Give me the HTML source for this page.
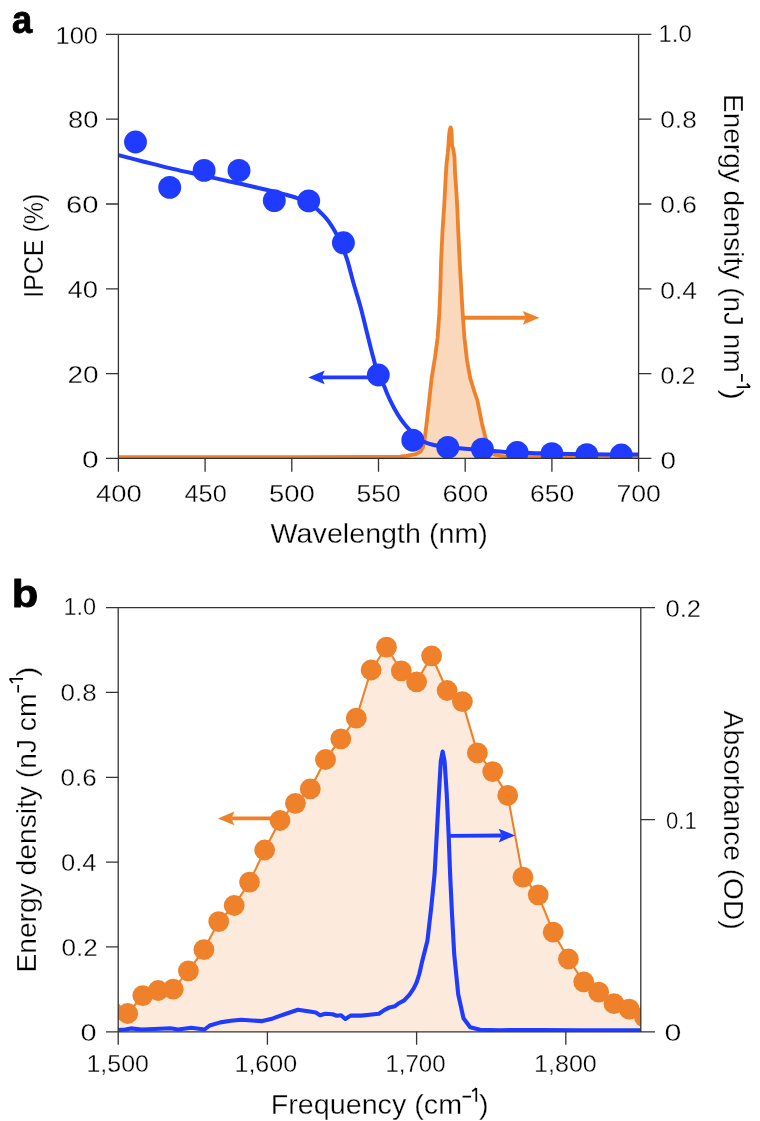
<!DOCTYPE html>
<html><head><meta charset="utf-8"><title>Figure</title><style>
html,body{margin:0;padding:0;background:#fff;width:760px;height:1121px;overflow:hidden}
svg{display:block;will-change:transform}
text{font-family:"Liberation Sans",sans-serif}
</style></head><body>
<svg width="760" height="1121" viewBox="0 0 760 1121">
<rect width="760" height="1121" fill="#fff"/>
<clipPath id="ca"><rect x="118.4" y="34.4" width="520.2" height="424"/></clipPath>
<g clip-path="url(#ca)">
<polygon points="116.4,457.2 300,457.2 370,457 400,456.6 406.3,455.8 415.8,454.2 420.5,451.5 423,447 424.5,440 425.8,430 427,420 429.2,400.5 431.6,378.4 435.2,356.3 437.6,337.4 439.3,313.7 440.3,290 441,263.5 442.5,230.5 444.2,205.8 445.3,185 445.9,173.8 446.5,164 447.8,153 448.6,143 449.2,134 449.8,129.5 450.6,127.4 451.3,129.5 451.7,134 452,145.5 453.2,148.8 454.5,157.2 455.1,173.8 456,186 457.2,205.8 458.2,230.5 459.8,263.5 461.3,290 462.7,313.7 464.4,337.4 467.1,361 470.3,378.4 474.5,392 477.4,400.5 482.1,424.2 486.1,440 489.5,450.5 494,454.5 501,455.8 510.5,456.8 540,457 640.6,457 640.6,458.4 116.4,458.4" fill="#FAD8BB"/>
<polyline points="116.4,457.2 300,457.2 370,457 400,456.6 406.3,455.8 415.8,454.2 420.5,451.5 423,447 424.5,440 425.8,430 427,420 429.2,400.5 431.6,378.4 435.2,356.3 437.6,337.4 439.3,313.7 440.3,290 441,263.5 442.5,230.5 444.2,205.8 445.3,185 445.9,173.8 446.5,164 447.8,153 448.6,143 449.2,134 449.8,129.5 450.6,127.4 451.3,129.5 451.7,134 452,145.5 453.2,148.8 454.5,157.2 455.1,173.8 456,186 457.2,205.8 458.2,230.5 459.8,263.5 461.3,290 462.7,313.7 464.4,337.4 467.1,361 470.3,378.4 474.5,392 477.4,400.5 482.1,424.2 486.1,440 489.5,450.5 494,454.5 501,455.8 510.5,456.8 540,457 640.6,457" fill="none" stroke="#EE8129" stroke-width="3.8" stroke-linejoin="round"/>
<path d="M117.4,154.9 C121.82,156.03 134.65,159.37 143.9,161.7 C153.15,164.03 163.25,166.63 172.9,168.9 C182.55,171.17 192.15,173.17 201.8,175.3 C211.45,177.43 221.15,179.55 230.8,181.7 C240.45,183.85 250.67,186.08 259.7,188.2 C268.73,190.32 278.85,192.78 285,194.4 C291.15,196.02 293,196.47 296.6,197.9 C300.2,199.33 303.27,201.17 306.6,203 C309.93,204.83 314.07,207.12 316.6,208.9 C319.13,210.68 320.05,211.93 321.8,213.7 C323.55,215.47 325.52,217.57 327.1,219.5 C328.68,221.43 329.98,223.28 331.3,225.3 C332.62,227.32 333.55,229.07 335,231.6 C336.45,234.13 338.33,236.82 340,240.5 C341.67,244.18 343.63,249.93 345,253.7 C346.37,257.47 346.8,258.25 348.2,263.1 C349.6,267.95 351.38,275.65 353.4,282.8 C355.42,289.95 358.18,298.27 360.3,306 C362.42,313.73 364.17,321.47 366.1,329.2 C368.03,336.93 369.88,344.78 371.9,352.4 C373.92,360.02 376.2,369.35 378.2,374.9 C380.2,380.45 382.42,382.6 383.9,385.7 C385.38,388.8 385.97,390.88 387.1,393.5 C388.23,396.12 389.5,398.9 390.7,401.4 C391.9,403.9 393,406.13 394.3,408.5 C395.6,410.87 396.97,413.22 398.5,415.6 C400.03,417.98 401.95,420.77 403.5,422.8 C405.05,424.83 406.22,426.02 407.8,427.8 C409.38,429.58 411.3,431.8 413,433.5 C414.7,435.2 416.17,436.62 418,438 C419.83,439.38 421.7,440.72 424,441.8 C426.3,442.88 427.82,443.62 431.8,444.5 C435.78,445.38 442.42,446.4 447.9,447.1 C453.38,447.8 458.95,448.25 464.7,448.7 C470.45,449.15 476.52,449.33 482.4,449.8 C488.28,450.27 494.23,451.03 500,451.5 C505.77,451.97 511.17,452.32 517,452.6 C522.83,452.88 529.17,453.02 535,453.2 C540.83,453.38 542.83,453.53 552,453.7 C561.17,453.87 575.4,454.05 590,454.2 C604.6,454.35 631.33,454.53 639.6,454.6" fill="none" stroke="#1F3BFF" stroke-width="4.0" stroke-linejoin="round"/>
<circle cx="135.5" cy="142" r="11.45" fill="#1F3BFF"/>
<circle cx="169.7" cy="187.4" r="11.45" fill="#1F3BFF"/>
<circle cx="204.1" cy="170.4" r="11.45" fill="#1F3BFF"/>
<circle cx="239" cy="170.4" r="11.45" fill="#1F3BFF"/>
<circle cx="274.3" cy="200.6" r="11.45" fill="#1F3BFF"/>
<circle cx="308.7" cy="200.9" r="11.45" fill="#1F3BFF"/>
<circle cx="343.4" cy="242.8" r="11.45" fill="#1F3BFF"/>
<circle cx="378.3" cy="375" r="11.45" fill="#1F3BFF"/>
<circle cx="412.8" cy="440.2" r="11.45" fill="#1F3BFF"/>
<circle cx="447.8" cy="447.4" r="11.45" fill="#1F3BFF"/>
<circle cx="482.4" cy="449.1" r="11.45" fill="#1F3BFF"/>
<circle cx="517.2" cy="452.5" r="11.45" fill="#1F3BFF"/>
<circle cx="551.9" cy="453.6" r="11.45" fill="#1F3BFF"/>
<circle cx="586.8" cy="454.6" r="11.45" fill="#1F3BFF"/>
<circle cx="621.3" cy="455" r="11.45" fill="#1F3BFF"/>
</g>
<line x1="462.5" y1="317.8" x2="525.8" y2="317.8" stroke="#EE8129" stroke-width="3.9"/><polygon points="539.3,317.8 522.8,324.7 525.8,317.8 522.8,310.9" fill="#EE8129"/>
<line x1="378" y1="377.4" x2="321.7" y2="377.4" stroke="#1F3BFF" stroke-width="3.9"/><polygon points="308.2,377.4 324.7,370.5 321.7,377.4 324.7,384.3" fill="#1F3BFF"/>
<g stroke="#333333" stroke-width="1.3" fill="none"><path d="M106,34.4 H651.4 M106,458.4 H651.4 M118.4,34.4 V471.8 M638.6,34.4 V471.8" /><path d="M106,373.6 H118.4 M638.6,373.6 H651.4 M106,288.8 H118.4 M638.6,288.8 H651.4 M106,204 H118.4 M638.6,204 H651.4 M106,119.2 H118.4 M638.6,119.2 H651.4 M205.1,458.4 V471.8 M291.8,458.4 V471.8 M378.5,458.4 V471.8 M465.2,458.4 V471.8 M551.9,458.4 V471.8 "/></g>
<g fill="#000"><text x="11.9" y="33" font-size="39.5" textLength="20.17" lengthAdjust="spacingAndGlyphs" font-weight="bold" stroke="#000" stroke-width="0.9" stroke-linejoin="round">a</text><text x="82" y="467.8" font-size="23.5" textLength="16.67" lengthAdjust="spacingAndGlyphs" stroke="#fff" stroke-width="0.3">0</text><text x="67.5" y="383.3" font-size="23.5" textLength="31.14" lengthAdjust="spacingAndGlyphs" stroke="#fff" stroke-width="0.3">20</text><text x="67.5" y="297.8" font-size="23.5" textLength="30.54" lengthAdjust="spacingAndGlyphs" stroke="#fff" stroke-width="0.3">40</text><text x="66" y="213.3" font-size="23.5" textLength="32.54" lengthAdjust="spacingAndGlyphs" stroke="#fff" stroke-width="0.3">60</text><text x="68" y="128.3" font-size="23.5" textLength="30.34" lengthAdjust="spacingAndGlyphs" stroke="#fff" stroke-width="0.3">80</text><text x="55.5" y="43.55" font-size="23.5" textLength="42.41" lengthAdjust="spacingAndGlyphs" stroke="#fff" stroke-width="0.3">100</text><text x="660.5" y="468.8" font-size="23.5" textLength="15.47" lengthAdjust="spacingAndGlyphs" stroke="#fff" stroke-width="0.3">0</text><text x="660.5" y="383.8" font-size="23.5" textLength="34.87" lengthAdjust="spacingAndGlyphs" stroke="#fff" stroke-width="0.3">0.2</text><text x="660.25" y="299.3" font-size="23.5" textLength="36.67" lengthAdjust="spacingAndGlyphs" stroke="#fff" stroke-width="0.3">0.4</text><text x="660.25" y="213.3" font-size="23.5" textLength="36.47" lengthAdjust="spacingAndGlyphs" stroke="#fff" stroke-width="0.3">0.6</text><text x="660.25" y="128.3" font-size="23.5" textLength="36.47" lengthAdjust="spacingAndGlyphs" stroke="#fff" stroke-width="0.3">0.8</text><text x="658.5" y="42.3" font-size="23.5" textLength="33.27" lengthAdjust="spacingAndGlyphs" stroke="#fff" stroke-width="0.3">1.0</text><text x="96" y="501.7" font-size="23.5" textLength="45.61" lengthAdjust="spacingAndGlyphs" stroke="#fff" stroke-width="0.3">400</text><text x="184.5" y="501.7" font-size="23.5" textLength="42.21" lengthAdjust="spacingAndGlyphs" stroke="#fff" stroke-width="0.3">450</text><text x="269" y="501.7" font-size="23.5" textLength="45.81" lengthAdjust="spacingAndGlyphs" stroke="#fff" stroke-width="0.3">500</text><text x="356.5" y="501.7" font-size="23.5" textLength="44.21" lengthAdjust="spacingAndGlyphs" stroke="#fff" stroke-width="0.3">550</text><text x="442.5" y="501.7" font-size="23.5" textLength="45.81" lengthAdjust="spacingAndGlyphs" stroke="#fff" stroke-width="0.3">600</text><text x="530" y="501.7" font-size="23.5" textLength="44.21" lengthAdjust="spacingAndGlyphs" stroke="#fff" stroke-width="0.3">650</text><text x="616.5" y="501.7" font-size="23.5" textLength="44.41" lengthAdjust="spacingAndGlyphs" stroke="#fff" stroke-width="0.3">700</text><text x="270.6" y="543.2" font-size="27.6" textLength="217.32" lengthAdjust="spacingAndGlyphs" stroke="#fff" stroke-width="0.3">Wavelength (nm)</text><text x="43" y="297.8" font-size="27.6" textLength="104.01" lengthAdjust="spacingAndGlyphs" stroke="#fff" stroke-width="0.3" transform="rotate(-90 43 297.8)">IPCE (%)</text><text x="723.9" y="94" font-size="27.6" textLength="278.79" lengthAdjust="spacingAndGlyphs" stroke="#fff" stroke-width="0.3" transform="rotate(90 723.9 94)">Energy density (nJ nm</text><text x="723.9" y="389.4" font-size="27.6" textLength="10.39" lengthAdjust="spacingAndGlyphs" stroke="#fff" stroke-width="0.3" transform="rotate(90 723.9 389.4)">)</text></g><path d="M741.9,373.9 V381.7 M750.1,387.1 H736.6 M750.1,387.1 L746.9,383.7" stroke="#000" stroke-width="1.7" fill="none"/>
<clipPath id="cb"><rect x="118.2" y="607.6" width="522.6" height="424.2"/></clipPath>
<g clip-path="url(#cb)">
<polygon points="112.6,1012 127.65,1013.5 142.8,995.6 158.2,990.5 173.2,989.2 188.4,970.8 203.9,949.7 218.7,921.6 234.2,905.5 249.5,882.1 264.7,850 280,820.5 295.4,803.3 310.3,788.9 325.5,759.5 340.8,738.9 356.3,718.2 371.1,670 386.5,647.2 401.3,670.8 416.6,681.8 431.6,655.8 447.1,690.5 462.4,701.6 477.4,752.9 492.7,771.6 507.7,795.4 522.9,877.1 538.2,894.8 553.2,932.2 568.4,959 583.7,981.8 598.7,992.2 614,1003.7 629.2,1009.1 644.4,1016.9 644.4,1031.8 112.6,1031.8" fill="#FCEADD"/>
<polyline points="112.6,1012 127.65,1013.5 142.8,995.6 158.2,990.5 173.2,989.2 188.4,970.8 203.9,949.7 218.7,921.6 234.2,905.5 249.5,882.1 264.7,850 280,820.5 295.4,803.3 310.3,788.9 325.5,759.5 340.8,738.9 356.3,718.2 371.1,670 386.5,647.2 401.3,670.8 416.6,681.8 431.6,655.8 447.1,690.5 462.4,701.6 477.4,752.9 492.7,771.6 507.7,795.4 522.9,877.1 538.2,894.8 553.2,932.2 568.4,959 583.7,981.8 598.7,992.2 614,1003.7 629.2,1009.1 644.4,1016.9" fill="none" stroke="#EE8129" stroke-width="2.1" stroke-linejoin="round"/>
<circle cx="112.6" cy="1012" r="10.4" fill="#EE8129"/>
<circle cx="127.65" cy="1013.5" r="10.4" fill="#EE8129"/>
<circle cx="142.8" cy="995.6" r="10.4" fill="#EE8129"/>
<circle cx="158.2" cy="990.5" r="10.4" fill="#EE8129"/>
<circle cx="173.2" cy="989.2" r="10.4" fill="#EE8129"/>
<circle cx="188.4" cy="970.8" r="10.4" fill="#EE8129"/>
<circle cx="203.9" cy="949.7" r="10.4" fill="#EE8129"/>
<circle cx="218.7" cy="921.6" r="10.4" fill="#EE8129"/>
<circle cx="234.2" cy="905.5" r="10.4" fill="#EE8129"/>
<circle cx="249.5" cy="882.1" r="10.4" fill="#EE8129"/>
<circle cx="264.7" cy="850" r="10.4" fill="#EE8129"/>
<circle cx="280" cy="820.5" r="10.4" fill="#EE8129"/>
<circle cx="295.4" cy="803.3" r="10.4" fill="#EE8129"/>
<circle cx="310.3" cy="788.9" r="10.4" fill="#EE8129"/>
<circle cx="325.5" cy="759.5" r="10.4" fill="#EE8129"/>
<circle cx="340.8" cy="738.9" r="10.4" fill="#EE8129"/>
<circle cx="356.3" cy="718.2" r="10.4" fill="#EE8129"/>
<circle cx="371.1" cy="670" r="10.4" fill="#EE8129"/>
<circle cx="386.5" cy="647.2" r="10.4" fill="#EE8129"/>
<circle cx="401.3" cy="670.8" r="10.4" fill="#EE8129"/>
<circle cx="416.6" cy="681.8" r="10.4" fill="#EE8129"/>
<circle cx="431.6" cy="655.8" r="10.4" fill="#EE8129"/>
<circle cx="447.1" cy="690.5" r="10.4" fill="#EE8129"/>
<circle cx="462.4" cy="701.6" r="10.4" fill="#EE8129"/>
<circle cx="477.4" cy="752.9" r="10.4" fill="#EE8129"/>
<circle cx="492.7" cy="771.6" r="10.4" fill="#EE8129"/>
<circle cx="507.7" cy="795.4" r="10.4" fill="#EE8129"/>
<circle cx="522.9" cy="877.1" r="10.4" fill="#EE8129"/>
<circle cx="538.2" cy="894.8" r="10.4" fill="#EE8129"/>
<circle cx="553.2" cy="932.2" r="10.4" fill="#EE8129"/>
<circle cx="568.4" cy="959" r="10.4" fill="#EE8129"/>
<circle cx="583.7" cy="981.8" r="10.4" fill="#EE8129"/>
<circle cx="598.7" cy="992.2" r="10.4" fill="#EE8129"/>
<circle cx="614" cy="1003.7" r="10.4" fill="#EE8129"/>
<circle cx="629.2" cy="1009.1" r="10.4" fill="#EE8129"/>
<circle cx="644.4" cy="1016.9" r="10.4" fill="#EE8129"/>
<polyline points="117.2,1030 125.5,1029.5 130.8,1028.4 141.3,1029.5 154.5,1029 170.3,1028.3 178.2,1029.5 191.3,1027.8 204.5,1029.5 209.7,1025.5 220.3,1022.4 230.8,1020.8 241.3,1019.7 251.8,1020.5 262.4,1021.1 272.9,1018.4 286,1013.7 297.9,1009.7 309.7,1011.6 315.8,1012.6 320,1015.2 325.3,1013.7 332.6,1014.3 336.8,1015.8 341.1,1015.2 345.3,1019 350.5,1015.6 361,1015.6 369.5,1014.7 378.9,1013.7 384.2,1010.1 389.5,1007.4 394.7,1006.3 398.9,1003.2 404.2,1000.4 409.5,994.7 413.7,988.4 416.7,982.2 419.3,974 422,962.1 427.4,940.7 431.4,905.9 434.6,873.8 436.8,833.7 438.9,793.5 440.8,761.4 442.6,751.5 444.6,761.4 446.7,793.5 448.6,833.7 450.1,873.8 452,913.9 454.2,954.1 458.2,994.2 463.5,1018.3 470.2,1027.2 480.1,1029.8 500,1030.2 540,1030 580,1030.3 641.8,1030.3" fill="none" stroke="#1F3BFF" stroke-width="4.1" stroke-linejoin="round"/>
</g>
<line x1="280" y1="818.4" x2="231.4" y2="818.4" stroke="#EE8129" stroke-width="3.9"/><polygon points="217.9,818.4 234.4,811.5 231.4,818.4 234.4,825.3" fill="#EE8129"/>
<line x1="449.5" y1="835.9" x2="501.7" y2="835.5" stroke="#1F3BFF" stroke-width="3.9"/><polygon points="515.2,835.4 498.75,842.43 501.7,835.5 498.65,828.63" fill="#1F3BFF"/>
<g stroke="#333333" stroke-width="1.3" fill="none"><path d="M106,607.6 H655 M106,1031.8 H655 M118.2,607.6 V1044.8 M640.8,607.6 V1031.8" /><path d="M106,946.96 H118.2 M106,862.12 H118.2 M106,777.28 H118.2 M106,692.44 H118.2 M640.8,819.7 H655 M267.4,1031.8 V1044.8 M416.6,1031.8 V1044.8 M565.8,1031.8 V1044.8 "/></g>
<g fill="#000"><text x="11.8" y="606.8" font-size="39.5" textLength="26.53" lengthAdjust="spacingAndGlyphs" font-weight="bold" stroke="#000" stroke-width="0.9" stroke-linejoin="round">b</text><text x="80.5" y="1041.3" font-size="23.5" textLength="16.07" lengthAdjust="spacingAndGlyphs" stroke="#fff" stroke-width="0.3">0</text><text x="61.5" y="956.3" font-size="23.5" textLength="36.27" lengthAdjust="spacingAndGlyphs" stroke="#fff" stroke-width="0.3">0.2</text><text x="61" y="870.8" font-size="23.5" textLength="35.47" lengthAdjust="spacingAndGlyphs" stroke="#fff" stroke-width="0.3">0.4</text><text x="60.5" y="786.3" font-size="23.5" textLength="36.07" lengthAdjust="spacingAndGlyphs" stroke="#fff" stroke-width="0.3">0.6</text><text x="60.5" y="700.8" font-size="23.5" textLength="36.07" lengthAdjust="spacingAndGlyphs" stroke="#fff" stroke-width="0.3">0.8</text><text x="63.5" y="615.3" font-size="23.5" textLength="32.67" lengthAdjust="spacingAndGlyphs" stroke="#fff" stroke-width="0.3">1.0</text><text x="664.5" y="1041.3" font-size="23.5" textLength="16.87" lengthAdjust="spacingAndGlyphs" stroke="#fff" stroke-width="0.3">0</text><text x="666" y="828.8" font-size="23.5" textLength="30.67" lengthAdjust="spacingAndGlyphs" stroke="#fff" stroke-width="0.3">0.1</text><text x="665.5" y="616.8" font-size="23.5" textLength="35.47" lengthAdjust="spacingAndGlyphs" stroke="#fff" stroke-width="0.3">0.2</text><text x="86.5" y="1071.8" font-size="23.5" textLength="62.41" lengthAdjust="spacingAndGlyphs" stroke="#fff" stroke-width="0.3">1,500</text><text x="234.5" y="1071.8" font-size="23.5" textLength="62.61" lengthAdjust="spacingAndGlyphs" stroke="#fff" stroke-width="0.3">1,600</text><text x="385.5" y="1071.8" font-size="23.5" textLength="60.01" lengthAdjust="spacingAndGlyphs" stroke="#fff" stroke-width="0.3">1,700</text><text x="534" y="1071.8" font-size="23.5" textLength="62.81" lengthAdjust="spacingAndGlyphs" stroke="#fff" stroke-width="0.3">1,800</text><text x="270.8" y="1113.7" font-size="27.6" textLength="191.26" lengthAdjust="spacingAndGlyphs" stroke="#fff" stroke-width="0.3">Frequency (cm</text><text x="479" y="1113.7" font-size="27.6" textLength="9.59" lengthAdjust="spacingAndGlyphs" stroke="#fff" stroke-width="0.3">)</text><text x="35.9" y="972.6" font-size="27.6" textLength="279.04" lengthAdjust="spacingAndGlyphs" stroke="#fff" stroke-width="0.3" transform="rotate(-90 35.9 972.6)">Energy density (nJ cm</text><text x="35.9" y="676.6" font-size="27.6" textLength="9.79" lengthAdjust="spacingAndGlyphs" stroke="#fff" stroke-width="0.3" transform="rotate(-90 35.9 676.6)">)</text><text x="724.1" y="710.6" font-size="27.6" textLength="219.16" lengthAdjust="spacingAndGlyphs" stroke="#fff" stroke-width="0.3" transform="rotate(90 724.1 710.6)">Absorbance (OD)</text></g><path d="M462.6,1096.6 H471.1 M476.3,1088.1 V1101.8 M476.3,1088.3 L472.2,1091.4" stroke="#000" stroke-width="1.7" fill="none"/><path d="M18.2,684.9 V692.4 M9.5,678.9 H23 M9.6,678.9 L12.7,682.9" stroke="#000" stroke-width="1.7" fill="none"/>
</svg>
</body></html>
